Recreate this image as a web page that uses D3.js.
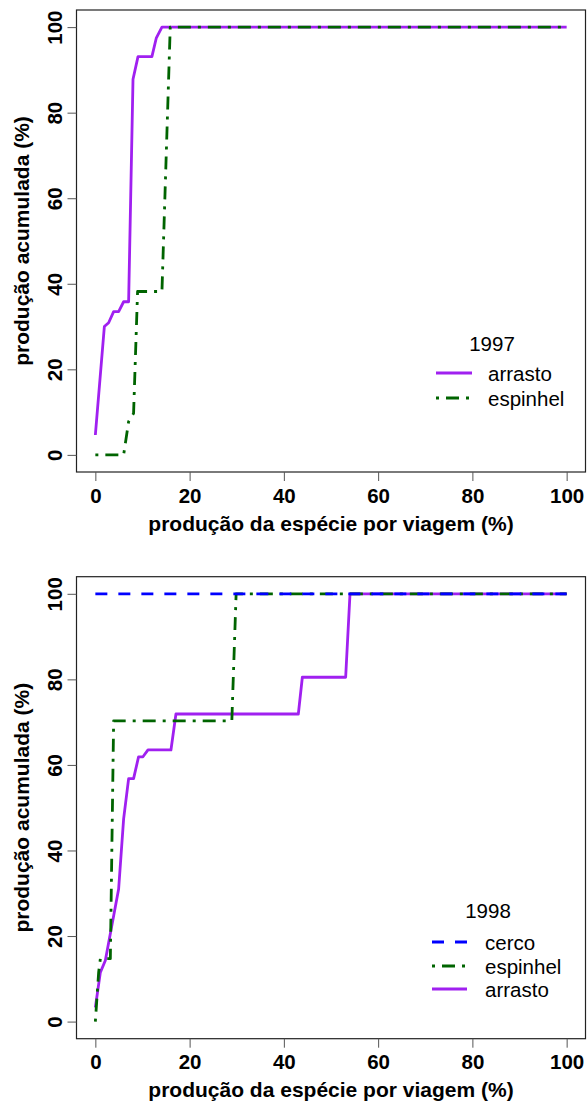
<!DOCTYPE html>
<html>
<head>
<meta charset="utf-8">
<script src="https://cdn.jsdelivr.net/npm/d3@7"></script>
<style>
  html, body { margin: 0; padding: 0; background: #fff; }
  svg { display: block; font-family: "Liberation Sans", Arial, sans-serif; }
</style>
</head>
<body>
<svg id="chart" width="587" height="1106"></svg>
<script>
// Cumulative production curves, 1997
const arrasto1997X = [0, 1.91, 2.82, 3.88, 4.94, 6.0, 7.06, 7.99, 9.05, 12.0, 12.92, 14.13, 100];
const arrasto1997Y = [4.65, 30.0, 30.9, 33.5, 33.5, 35.8, 35.8, 87.8, 93.1, 93.1, 97.4, 100, 100];
const espinhel1997X = [0, 6.0, 7.06, 8.11, 8.96, 14.13, 15.89, 100];
const espinhel1997Y = [0, 0, 7.8, 9.7, 38.2, 38.2, 100, 100];

// Cumulative production curves, 1998
const cerco1998X = [0, 100];
const cerco1998Y = [100, 100];
const espinhel1998X = [0, 0.7, 1.06, 3.18, 3.88, 28.96, 29.87, 100];
const espinhel1998Y = [0, 11.5, 14.7, 14.7, 70.3, 70.3, 100, 100];
const arrasto1998X = [0, 1.06, 2.12, 4.94, 6.0, 7.06, 8.11, 9.17, 10.1, 11.17, 16.04, 17.1, 43.07, 43.92, 53.11, 54.03, 100];
const arrasto1998Y = [3.3, 11.5, 14.3, 31.0, 47.4, 56.8, 56.8, 61.9, 61.9, 63.5, 63.5, 71.9, 71.9, 80.5, 80.5, 100, 100];

const tickValues = [0, 20, 40, 60, 80, 100];
const xTitle = "produção da espécie por viagem (%)";
const yTitle = "produção acumulada (%)";

const styles = {
  arrasto:  { color: "#A020F0", dash: null },
  espinhel: { color: "#006400", dash: "3,7,13,7" },
  cerco:    { color: "#0000FF", dash: "12,11" }
};

const svg = d3.select("#chart");

function zip(xs, ys) { return xs.map((x, i) => [x, ys[i]]); }

function panel(top, series) {
  const left = 76.5, right = 585.5, bottom = top + 462;
  const x = d3.scaleLinear().domain([-4, 104]).range([left, right]);
  const y = d3.scaleLinear().domain([-4, 104]).range([bottom, top]);
  const g = svg.append("g");

  // curves (drawn in order: first below, last on top)
  const line = d3.line().x(d => x(d[0])).y(d => y(d[1]));
  series.forEach(s => {
    const st = styles[s.name];
    g.append("path")
      .datum(zip(s.xs, s.ys))
      .attr("d", line)
      .attr("fill", "none")
      .attr("stroke", st.color)
      .attr("stroke-width", 2.8)
      .attr("stroke-dasharray", st.dash)
      .attr("stroke-linejoin", "round");
  });

  // frame
  g.append("rect")
    .attr("x", left).attr("y", top)
    .attr("width", right - left).attr("height", bottom - top)
    .attr("fill", "none").attr("stroke", "#222").attr("stroke-width", 1.2);

  // x axis
  const ax = g.append("g").attr("transform", `translate(0,${bottom})`)
    .call(d3.axisBottom(x).tickValues(tickValues).tickSize(9).tickPadding(6).tickFormat(d3.format("d")));
  ax.select(".domain").remove();
  ax.selectAll(".tick line").attr("stroke", "#555");
  ax.selectAll(".tick text")
    .attr("font-size", 20.5).attr("font-weight", "bold").attr("fill", "#000")
    .attr("font-family", "Liberation Sans, Arial, sans-serif")
    .attr("dy", null).attr("y", 23).attr("dominant-baseline", "central");

  // y axis
  const ay = g.append("g").attr("transform", `translate(${left},0)`)
    .call(d3.axisLeft(y).tickValues(tickValues).tickSize(9).tickFormat(d3.format("d")));
  ay.select(".domain").remove();
  ay.selectAll(".tick line").attr("stroke", "#555");
  ay.selectAll(".tick text")
    .attr("font-size", 20.5).attr("font-weight", "bold").attr("fill", "#000")
    .attr("font-family", "Liberation Sans, Arial, sans-serif")
    .attr("x", null).attr("dy", null)
    .attr("text-anchor", "middle").attr("dominant-baseline", "central")
    .attr("transform", "translate(-22,0) rotate(-90)");

  // axis titles
  g.append("text")
    .attr("x", (x(0) + x(100)) / 2).attr("y", bottom + 51)
    .attr("text-anchor", "middle").attr("dominant-baseline", "central")
    .attr("font-size", 21).attr("font-weight", "bold")
    .text(xTitle);
  g.append("text")
    .attr("transform", `translate(21,${(y(0) + y(100)) / 2}) rotate(-90)`)
    .attr("text-anchor", "middle").attr("dominant-baseline", "central")
    .attr("font-size", 21).attr("font-weight", "bold")
    .text(yTitle);

  return g;
}

function legend(g, year, cx, titleY, lineX0, lineX1, textX, rowYs, names) {
  g.append("text")
    .attr("x", cx).attr("y", titleY)
    .attr("text-anchor", "middle").attr("dominant-baseline", "central")
    .attr("font-size", 20.5).text(year);
  names.forEach((n, i) => {
    const st = styles[n];
    g.append("line")
      .attr("x1", lineX0).attr("x2", lineX1)
      .attr("y1", rowYs[i]).attr("y2", rowYs[i])
      .attr("stroke", st.color).attr("stroke-width", 2.8)
      .attr("stroke-dasharray", st.dash);
    g.append("text")
      .attr("x", textX).attr("y", rowYs[i])
      .attr("dominant-baseline", "central")
      .attr("font-size", 20.5).text(n);
  });
}

const g1 = panel(10, [
  { name: "arrasto", xs: arrasto1997X, ys: arrasto1997Y },
  { name: "espinhel", xs: espinhel1997X, ys: espinhel1997Y }
]);
legend(g1, "1997", 492, 343, 436, 472, 488, [373, 398], ["arrasto", "espinhel"]);

const g2 = panel(576.7, [
  { name: "arrasto", xs: arrasto1998X, ys: arrasto1998Y },
  { name: "espinhel", xs: espinhel1998X, ys: espinhel1998Y },
  { name: "cerco", xs: cerco1998X, ys: cerco1998Y }
]);
legend(g2, "1998", 488, 910, 432, 467, 485, [942, 966, 989], ["cerco", "espinhel", "arrasto"]);
</script>
</body>
</html>
